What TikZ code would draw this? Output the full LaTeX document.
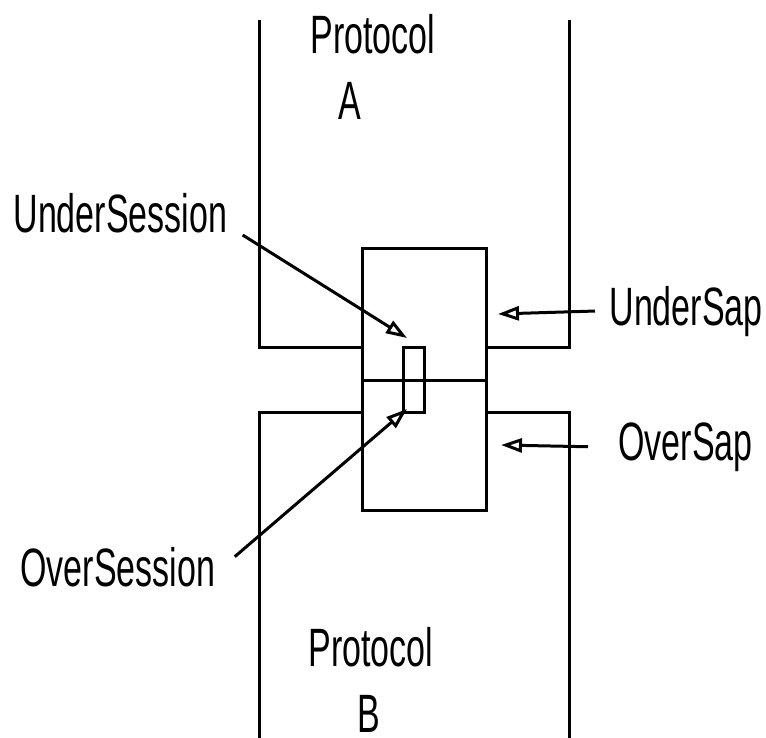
\documentclass[tikz,border=0pt]{standalone}
\usepackage{fontspec}
\setmainfont{Liberation Sans}[FakeStretch=0.63]
\usetikzlibrary{arrows.meta}
\tikzset{
  lbl/.style={inner sep=0pt, align=left, font=\fontsize{54}{66}\selectfont},
  arr/.style={-{Triangle[open, length=21pt, width=14pt]}}
}
\begin{document}
\begin{tikzpicture}[x=1pt, y=-1pt, line width=3pt]
  \useasboundingbox (0,0) rectangle (766,738);
  % protocol A and protocol B
  \draw (259,20) -- (259,347) -- (362,347);
  \draw (569,20) -- (569,347) -- (486,347);
  \draw (362,412) -- (259,412) -- (259,738);
  \draw (486,412) -- (569,412) -- (569,738);
  % saps and sessions
  \draw (362,249) rectangle (486,510);
  \draw (362,380) -- (486,380);
  \draw (403,347) rectangle (424,412);
  \node[lbl, anchor=north west] (protA) at (309,13) {Protocol\\\hspace*{28pt}A};
  \node[lbl, anchor=north west] (protB) at (307,626) {Protocol\\\hspace*{49pt}B};
  \node[lbl, anchor=base west] (undersess) at (12,233) {UnderSession};
  \node[lbl, anchor=base west] (oversess) at (19,586) {OverSession};
  \node[lbl, anchor=base west] (undersap) at (608,325) {UnderSap};
  \node[lbl, anchor=base west] (oversap) at (617,460) {OverSap};
  \coordinate (usesstip) at (407,338);
  \coordinate (osesstip) at (407,409);
  \coordinate (usaptip) at (498,314);
  \coordinate (osaptip) at (501,445);
  \draw[arr] ([xshift=14pt]undersess.south east) -- (usesstip);
  \draw[arr] ([xshift=18pt, yshift=10pt]oversess.east) -- (osesstip);
  \draw[arr] ([xshift=-13pt]undersap.west) -- (usaptip);
  \draw[arr] ([xshift=-29pt]oversap.west) -- (osaptip);
\end{tikzpicture}
\end{document}
